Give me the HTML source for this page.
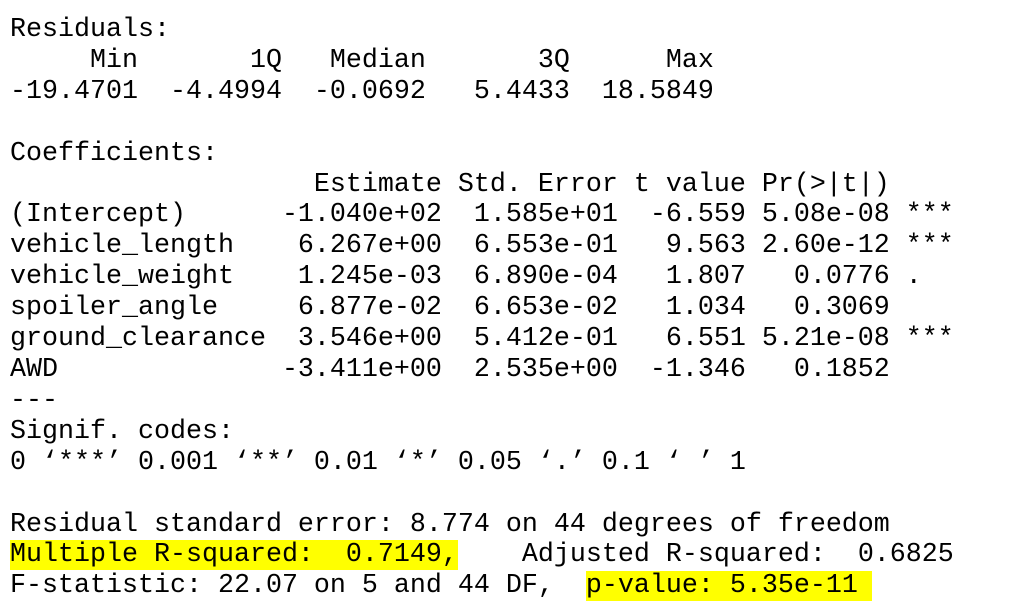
<!DOCTYPE html>
<html>
<head>
<meta charset="utf-8">
<style>
  html, body { margin: 0; padding: 0; background: #ffffff; }
  body { width: 1031px; height: 606px; overflow: hidden; position: relative; }
  pre {
    position: absolute; left: 10px; top: 15px; margin: 0;
    font-family: "Liberation Mono", "DejaVu Sans Mono", monospace;
    font-size: 26.67px; line-height: 30.9px; color: #000;
    white-space: pre;
  }
  .hl { background: #ffff00; }
  .pv { padding-right: 14px; }
</style>
</head>
<body>
<pre>Residuals:
     Min       1Q   Median       3Q      Max 
-19.4701  -4.4994  -0.0692   5.4433  18.5849 

Coefficients:
                   Estimate Std. Error t value Pr(&gt;|t|)    
(Intercept)      -1.040e+02  1.585e+01  -6.559 5.08e-08 ***
vehicle_length    6.267e+00  6.553e-01   9.563 2.60e-12 ***
vehicle_weight    1.245e-03  6.890e-04   1.807   0.0776 .  
spoiler_angle     6.877e-02  6.653e-02   1.034   0.3069    
ground_clearance  3.546e+00  5.412e-01   6.551 5.21e-08 ***
AWD              -3.411e+00  2.535e+00  -1.346   0.1852    
---
Signif. codes:  
0 ‘***’ 0.001 ‘**’ 0.01 ‘*’ 0.05 ‘.’ 0.1 ‘ ’ 1

Residual standard error: 8.774 on 44 degrees of freedom
<span class="hl">Multiple R-squared:  0.7149,</span>    Adjusted R-squared:  0.6825 
F-statistic: 22.07 on 5 and 44 DF,  <span class="hl pv">p-value: 5.35e-11</span></pre>
</body>
</html>
